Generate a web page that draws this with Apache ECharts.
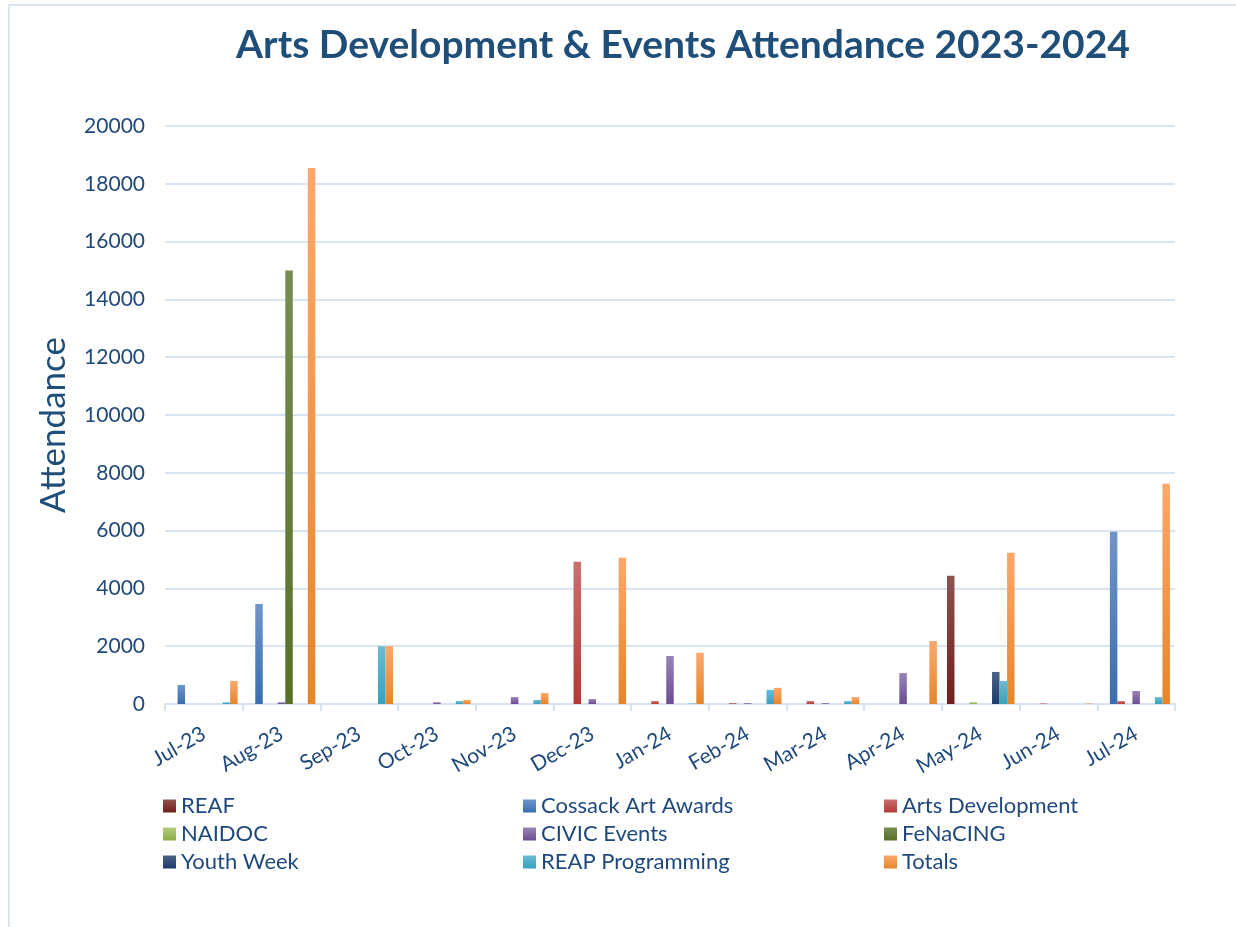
<!DOCTYPE html>
<html>
<head>
<meta charset="utf-8">
<script src="https://cdn.jsdelivr.net/npm/echarts@6/dist/echarts.min.js"></script>
<style>
  html, body { margin: 0; padding: 0; background: #fff; }
  #main { width: 1236px; height: 927px; }
</style>
</head>
<body>
<div id="main"></div>
<script>
  var months = ['Jul-23', 'Aug-23', 'Sep-23', 'Oct-23', 'Nov-23', 'Dec-23', 'Jan-24', 'Feb-24', 'Mar-24', 'Apr-24', 'May-24', 'Jun-24', 'Jul-24'];

  var reaf = [0, 0, 0, 0, 0, 0, 0, 0, 0, 0, 4440, 0, 0];
  var cossack = [660, 3460, 0, 0, 0, 0, 0, 0, 0, 0, 0, 0, 5960];
  var artsDev = [0, 0, 0, 0, 0, 4920, 100, 30, 100, 0, 0, 20, 100];
  var naidoc = [0, 0, 0, 0, 0, 0, 0, 0, 0, 0, 60, 0, 0];
  var civic = [0, 60, 0, 60, 240, 170, 1660, 30, 30, 1070, 0, 0, 450];
  var fenacing = [0, 15000, 0, 0, 0, 0, 0, 0, 0, 0, 0, 0, 0];
  var youthWeek = [0, 0, 0, 0, 0, 0, 0, 0, 0, 0, 1110, 0, 0];
  var reap = [60, 0, 2000, 100, 140, 0, 20, 490, 100, 0, 800, 0, 240];
  var totals = [800, 18550, 2000, 140, 380, 5060, 1770, 560, 240, 2180, 5230, 20, 7620];

  var yTicks = [0, 2000, 4000, 6000, 8000, 10000, 12000, 14000, 16000, 18000, 20000];

  var FONT = 'Lato';
  var TXT = '#1f497d';

  // light top -> darker bottom, like the office bar fills
  function grad(top, bottom) {
    return new echarts.graphic.LinearGradient(0, 0, 0, 1, [
      {offset: 0, color: top},
      {offset: 1, color: bottom}
    ]);
  }

  var seriesDef = [
    {name: 'REAF', data: reaf, c: grad('#8e524e', '#701f1c')},
    {name: 'Cossack Art Awards', data: cossack, c: grad('#6f95cb', '#396eb0')},
    {name: 'Arts Development', data: artsDev, c: grad('#c9716e', '#b33936')},
    {name: 'NAIDOC', data: naidoc, c: grad('#b3cc80', '#8bae45')},
    {name: 'CIVIC Events', data: civic, c: grad('#9884b6', '#6b4d92')},
    {name: 'FeNaCING', data: fenacing, c: grad('#768c52', '#587126')},
    {name: 'Youth Week', data: youthWeek, c: grad('#4b6386', '#1c3b6b')},
    {name: 'REAP Programming', data: reap, c: grad('#6cbbd3', '#35a2be')},
    {name: 'Totals', data: totals, c: grad('#fca86b', '#e5862d')}
  ];

  var series = seriesDef.map(function (s) {
    return {
      name: s.name,
      type: 'bar',
      data: s.data,
      barGap: '0%',
      barCategoryGap: '13%',
      itemStyle: {color: s.c},
      emphasis: {disabled: true}
    };
  });

  function legendCol(names, left) {
    return {
      orient: 'vertical',
      left: left,
      top: 790,
      itemGap: 6,
      itemWidth: 13,
      itemHeight: 13,
      icon: 'rect',
      selectedMode: false,
      data: names,
      textStyle: {fontFamily: FONT, fontSize: 22, color: TXT, padding: [0, 0, 0, 0]}
    };
  }

  var myChart = echarts.init(document.getElementById('main'));
  var option = {
    backgroundColor: '#fff',
    animation: false,
    title: {
      text: 'Arts Development & Events Attendance 2023-2024',
      left: 678,
      textAlign: 'center',
      top: 21,
      textStyle: {fontFamily: FONT, fontSize: 39, fontWeight: 'bold', color: '#1f4e79'}
    },
    legend: [
      legendCol(['REAF', 'NAIDOC', 'Youth Week'], 158),
      legendCol(['Cossack Art Awards', 'CIVIC Events', 'REAP Programming'], 518),
      legendCol(['Arts Development', 'FeNaCING', 'Totals'], 879)
    ],
    grid: {left: 165, right: 61, top: 126, bottom: 223},
    xAxis: {
      type: 'category',
      data: months,
      axisLine: {lineStyle: {color: '#d6e2f3', width: 2}},
      axisTick: {show: true, alignWithLabel: false, length: 7, lineStyle: {color: '#d6e2f3', width: 2}},
      axisLabel: {rotate: 30, margin: 28, fontFamily: FONT, fontSize: 21, color: TXT, interval: 0}
    },
    yAxis: {
      type: 'value',
      min: yTicks[0],
      max: yTicks[yTicks.length - 1],
      interval: yTicks[1] - yTicks[0],
      name: 'Attendance',
      nameLocation: 'middle',
      nameGap: 94,
      nameTextStyle: {fontFamily: FONT, fontSize: 35, color: '#1f4e79', padding: [0, 20, 0, 0]},
      axisLine: {show: false},
      axisTick: {show: false},
      axisLabel: {
        margin: 20, fontFamily: FONT, fontSize: 21, color: TXT,
        formatter: function (v) { return String(v); }
      },
      splitLine: {lineStyle: {color: '#d9e4f3', width: 2}}
    },
    graphic: [
      {
        type: 'rect',
        shape: {x: 9, y: 5, width: 1300, height: 1000},
        style: {fill: 'none', stroke: '#dbe5f2', lineWidth: 2},
        silent: true
      }
    ],
    series: series
  };
  myChart.setOption(option);
</script>
</body>
</html>
